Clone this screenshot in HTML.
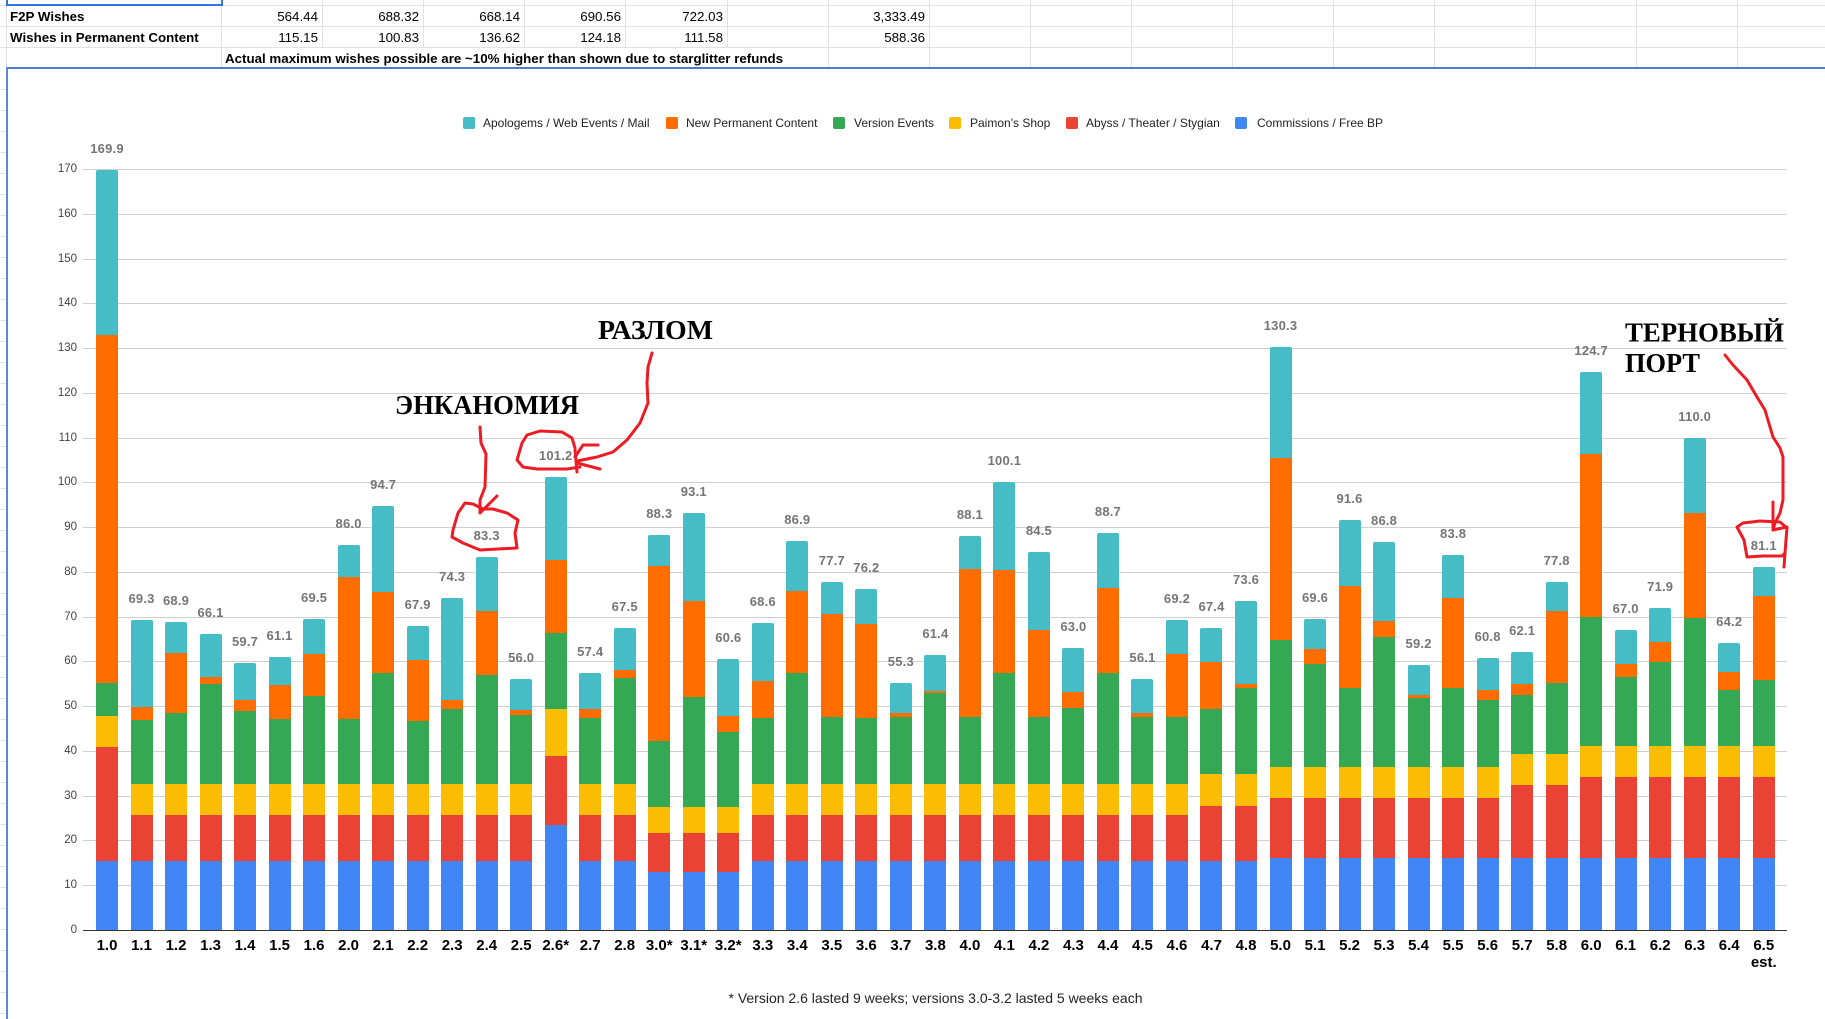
<!DOCTYPE html>
<html><head><meta charset="utf-8">
<style>
*{box-sizing:border-box}
html,body{margin:0;padding:0}
body{width:1825px;height:1019px;overflow:hidden;background:#fff;position:relative;font-family:"Liberation Sans",Arial,sans-serif}
.a{position:absolute}
.hl{position:absolute;left:0;width:1825px;height:1px;background:#e2e2e2}
.vl{position:absolute;width:1px;background:#e2e2e2}
.c{position:absolute;height:21px;line-height:21px;font-size:13.33px;color:#000;white-space:nowrap}
.n{text-align:right;width:97px}
.bd{font-weight:bold}
.gl{position:absolute;left:83px;width:1704px;height:1px;background:#d0d0d0}
.yt{position:absolute;left:27px;width:50px;text-align:right;font-size:11.5px;line-height:12px;color:#444}
.lg{position:absolute;top:117px;width:12px;height:12px;border-radius:2px}
.lt{position:absolute;top:116px;font-size:12px;line-height:14px;color:#222;white-space:nowrap}
#plot{position:absolute;left:89.74px;top:0;height:930px;display:flex}
.s{position:relative;width:34.52px;height:930px;flex:none;--b:15.5;--r:25.8;--y:32.7}
.c3{--b:13.0;--r:21.6;--y:27.4}
.d4{--r:27.8;--y:34.8}
.f5{--b:16.1;--r:29.6;--y:36.5}
.e5{--b:16.1;--r:32.5;--y:39.4}
.h6{--b:16.1;--r:34.3;--y:41.2}
.s i{position:absolute;left:6.26px;width:22px;bottom:0;display:block}
.s .t{height:calc(var(--t) * 4.474px);background:#46bdc6;border-radius:2px 2px 0 0}
.s .o{height:calc(var(--o) * 4.474px);background:#ff6d01}
.s .g{height:calc(var(--g) * 4.474px);background:#34a853}
.s .yl{height:calc(var(--y) * 4.474px);background:#fbbc04}
.s .r{height:calc(var(--r) * 4.474px);background:#ea4335}
.s .b{height:calc(var(--b) * 4.474px);background:#4285f4}
.s b{position:absolute;left:-15px;right:-15px;text-align:center;bottom:calc(var(--t) * 4.474px + 14px);font-size:13px;line-height:15px;font-weight:bold;color:#757575;letter-spacing:0.2px}
.s u{position:absolute;top:938px;left:-15px;right:-15px;text-align:center;text-decoration:none;font-size:15px;line-height:16.5px;font-weight:bold;color:#000}
</style></head><body>

<!-- spreadsheet rows -->
<div class="hl" style="top:5px"></div>
<div class="hl" style="top:26px"></div>
<div class="hl" style="top:47px"></div>
<div class="vl" style="left:6px;top:0;height:68px"></div>
<div class="vl" style="left:221px;top:0;height:68px"></div>
<div class="vl" style="left:322px;top:0;height:47px"></div>
<div class="vl" style="left:423px;top:0;height:47px"></div>
<div class="vl" style="left:524px;top:0;height:47px"></div>
<div class="vl" style="left:625px;top:0;height:47px"></div>
<div class="vl" style="left:727px;top:0;height:47px"></div>
<div class="vl" style="left:828px;top:0;height:68px"></div>
<div class="vl" style="left:929px;top:0;height:68px"></div>
<div class="vl" style="left:1030px;top:0;height:68px"></div>
<div class="vl" style="left:1131px;top:0;height:68px"></div>
<div class="vl" style="left:1232px;top:0;height:68px"></div>
<div class="vl" style="left:1333px;top:0;height:68px"></div>
<div class="vl" style="left:1434px;top:0;height:68px"></div>
<div class="vl" style="left:1535px;top:0;height:68px"></div>
<div class="vl" style="left:1636px;top:0;height:68px"></div>
<div class="vl" style="left:1737px;top:0;height:68px"></div>
<div class="a" style="left:6px;top:-4px;width:217px;height:10px;border:2px solid #2f74e0"></div>

<div class="c bd" style="left:10px;top:5.5px">F2P Wishes</div>
<div class="c n" style="left:221px;top:5.5px">564.44</div>
<div class="c n" style="left:322px;top:5.5px">688.32</div>
<div class="c n" style="left:423px;top:5.5px">668.14</div>
<div class="c n" style="left:524px;top:5.5px">690.56</div>
<div class="c n" style="left:626px;top:5.5px">722.03</div>
<div class="c n" style="left:828px;top:5.5px">3,333.49</div>

<div class="c bd" style="left:10px;top:26.5px">Wishes in Permanent Content</div>
<div class="c n" style="left:221px;top:26.5px">115.15</div>
<div class="c n" style="left:322px;top:26.5px">100.83</div>
<div class="c n" style="left:423px;top:26.5px">136.62</div>
<div class="c n" style="left:524px;top:26.5px">124.18</div>
<div class="c n" style="left:626px;top:26.5px">111.58</div>
<div class="c n" style="left:828px;top:26.5px">588.36</div>

<div class="c bd" style="left:225px;top:47.5px">Actual maximum wishes possible are ~10% higher than shown due to starglitter refunds</div>

<!-- left strip rows -->
<div class="a" style="left:0;top:69px;width:6px;height:950px;background:repeating-linear-gradient(to bottom,transparent 0,transparent 20px,#e2e2e2 20px,#e2e2e2 21px)"></div>
<!-- chart frame -->
<div class="a" style="left:6px;top:67px;width:1819px;height:2px;background:#4f7bc9"></div>
<div class="a" style="left:6px;top:67px;width:2px;height:952px;background:#5d88d4"></div>

<!-- legend -->
<div class="lg" style="left:463px;background:#46bdc6"></div><div class="lt" style="left:483px">Apologems / Web Events / Mail</div>
<div class="lg" style="left:666px;background:#ff6d01"></div><div class="lt" style="left:686px">New Permanent Content</div>
<div class="lg" style="left:833px;background:#34a853"></div><div class="lt" style="left:854px">Version Events</div>
<div class="lg" style="left:949px;background:#fbbc04"></div><div class="lt" style="left:970px">Paimon's Shop</div>
<div class="lg" style="left:1066px;background:#ea4335"></div><div class="lt" style="left:1086px">Abyss / Theater / Stygian</div>
<div class="lg" style="left:1235px;background:#4285f4"></div><div class="lt" style="left:1257px">Commissions / Free BP</div>

<!-- gridlines -->
<div class="gl" style="top:885px"></div>
<div class="gl" style="top:840px"></div>
<div class="gl" style="top:796px"></div>
<div class="gl" style="top:751px"></div>
<div class="gl" style="top:706px"></div>
<div class="gl" style="top:661px"></div>
<div class="gl" style="top:617px"></div>
<div class="gl" style="top:572px"></div>
<div class="gl" style="top:527px"></div>
<div class="gl" style="top:482px"></div>
<div class="gl" style="top:438px"></div>
<div class="gl" style="top:393px"></div>
<div class="gl" style="top:348px"></div>
<div class="gl" style="top:303px"></div>
<div class="gl" style="top:259px"></div>
<div class="gl" style="top:214px"></div>
<div class="gl" style="top:169px"></div>

<div class="yt" style="top:924px">0</div>
<div class="yt" style="top:879px">10</div>
<div class="yt" style="top:834px">20</div>
<div class="yt" style="top:790px">30</div>
<div class="yt" style="top:745px">40</div>
<div class="yt" style="top:700px">50</div>
<div class="yt" style="top:655px">60</div>
<div class="yt" style="top:611px">70</div>
<div class="yt" style="top:566px">80</div>
<div class="yt" style="top:521px">90</div>
<div class="yt" style="top:476px">100</div>
<div class="yt" style="top:432px">110</div>
<div class="yt" style="top:387px">120</div>
<div class="yt" style="top:342px">130</div>
<div class="yt" style="top:297px">140</div>
<div class="yt" style="top:253px">150</div>
<div class="yt" style="top:208px">160</div>
<div class="yt" style="top:163px">170</div>

<div id="plot">
<div class="s" style="--t:169.9;--o:133.1;--g:55.3;--y:47.9;--r:40.8"><i class="t"></i><i class="o"></i><i class="g"></i><i class="yl"></i><i class="r"></i><i class="b"></i><b>169.9</b><u>1.0</u></div>
<div class="s" style="--t:69.3;--o:49.8;--g:46.9"><i class="t"></i><i class="o"></i><i class="g"></i><i class="yl"></i><i class="r"></i><i class="b"></i><b>69.3</b><u>1.1</u></div>
<div class="s" style="--t:68.9;--o:62.0;--g:48.6"><i class="t"></i><i class="o"></i><i class="g"></i><i class="yl"></i><i class="r"></i><i class="b"></i><b>68.9</b><u>1.2</u></div>
<div class="s" style="--t:66.1;--o:56.6;--g:54.9"><i class="t"></i><i class="o"></i><i class="g"></i><i class="yl"></i><i class="r"></i><i class="b"></i><b>66.1</b><u>1.3</u></div>
<div class="s" style="--t:59.7;--o:51.5;--g:48.9"><i class="t"></i><i class="o"></i><i class="g"></i><i class="yl"></i><i class="r"></i><i class="b"></i><b>59.7</b><u>1.4</u></div>
<div class="s" style="--t:61.1;--o:54.7;--g:47.2"><i class="t"></i><i class="o"></i><i class="g"></i><i class="yl"></i><i class="r"></i><i class="b"></i><b>61.1</b><u>1.5</u></div>
<div class="s" style="--t:69.5;--o:61.7;--g:52.4"><i class="t"></i><i class="o"></i><i class="g"></i><i class="yl"></i><i class="r"></i><i class="b"></i><b>69.5</b><u>1.6</u></div>
<div class="s" style="--t:86.0;--o:78.9;--g:47.2"><i class="t"></i><i class="o"></i><i class="g"></i><i class="yl"></i><i class="r"></i><i class="b"></i><b>86.0</b><u>2.0</u></div>
<div class="s" style="--t:94.7;--o:75.5;--g:57.4"><i class="t"></i><i class="o"></i><i class="g"></i><i class="yl"></i><i class="r"></i><i class="b"></i><b>94.7</b><u>2.1</u></div>
<div class="s" style="--t:67.9;--o:60.3;--g:46.7"><i class="t"></i><i class="o"></i><i class="g"></i><i class="yl"></i><i class="r"></i><i class="b"></i><b>67.9</b><u>2.2</u></div>
<div class="s" style="--t:74.3;--o:51.5;--g:49.4"><i class="t"></i><i class="o"></i><i class="g"></i><i class="yl"></i><i class="r"></i><i class="b"></i><b>74.3</b><u>2.3</u></div>
<div class="s" style="--t:83.3;--o:71.2;--g:57.1"><i class="t"></i><i class="o"></i><i class="g"></i><i class="yl"></i><i class="r"></i><i class="b"></i><b>83.3</b><u>2.4</u></div>
<div class="s" style="--t:56.0;--o:49.1;--g:48.1"><i class="t"></i><i class="o"></i><i class="g"></i><i class="yl"></i><i class="r"></i><i class="b"></i><b>56.0</b><u>2.5</u></div>
<div class="s" style="--t:101.2;--o:82.6;--g:66.3;--y:49.4;--r:39.0;--b:23.4"><i class="t"></i><i class="o"></i><i class="g"></i><i class="yl"></i><i class="r"></i><i class="b"></i><b>101.2</b><u>2.6*</u></div>
<div class="s" style="--t:57.4;--o:49.4;--g:47.4"><i class="t"></i><i class="o"></i><i class="g"></i><i class="yl"></i><i class="r"></i><i class="b"></i><b>57.4</b><u>2.7</u></div>
<div class="s" style="--t:67.5;--o:58.1;--g:56.4"><i class="t"></i><i class="o"></i><i class="g"></i><i class="yl"></i><i class="r"></i><i class="b"></i><b>67.5</b><u>2.8</u></div>
<div class="s c3" style="--t:88.3;--o:81.4;--g:42.3"><i class="t"></i><i class="o"></i><i class="g"></i><i class="yl"></i><i class="r"></i><i class="b"></i><b>88.3</b><u>3.0*</u></div>
<div class="s c3" style="--t:93.1;--o:73.6;--g:52.0"><i class="t"></i><i class="o"></i><i class="g"></i><i class="yl"></i><i class="r"></i><i class="b"></i><b>93.1</b><u>3.1*</u></div>
<div class="s c3" style="--t:60.6;--o:47.9;--g:44.3"><i class="t"></i><i class="o"></i><i class="g"></i><i class="yl"></i><i class="r"></i><i class="b"></i><b>60.6</b><u>3.2*</u></div>
<div class="s" style="--t:68.6;--o:55.7;--g:47.4"><i class="t"></i><i class="o"></i><i class="g"></i><i class="yl"></i><i class="r"></i><i class="b"></i><b>68.6</b><u>3.3</u></div>
<div class="s" style="--t:86.9;--o:75.8;--g:57.4"><i class="t"></i><i class="o"></i><i class="g"></i><i class="yl"></i><i class="r"></i><i class="b"></i><b>86.9</b><u>3.4</u></div>
<div class="s" style="--t:77.7;--o:70.7;--g:47.7"><i class="t"></i><i class="o"></i><i class="g"></i><i class="yl"></i><i class="r"></i><i class="b"></i><b>77.7</b><u>3.5</u></div>
<div class="s" style="--t:76.2;--o:68.5;--g:47.4"><i class="t"></i><i class="o"></i><i class="g"></i><i class="yl"></i><i class="r"></i><i class="b"></i><b>76.2</b><u>3.6</u></div>
<div class="s" style="--t:55.3;--o:48.6;--g:47.7"><i class="t"></i><i class="o"></i><i class="g"></i><i class="yl"></i><i class="r"></i><i class="b"></i><b>55.3</b><u>3.7</u></div>
<div class="s" style="--t:61.4;--o:53.5;--g:53.0"><i class="t"></i><i class="o"></i><i class="g"></i><i class="yl"></i><i class="r"></i><i class="b"></i><b>61.4</b><u>3.8</u></div>
<div class="s" style="--t:88.1;--o:80.6;--g:47.7"><i class="t"></i><i class="o"></i><i class="g"></i><i class="yl"></i><i class="r"></i><i class="b"></i><b>88.1</b><u>4.0</u></div>
<div class="s" style="--t:100.1;--o:80.4;--g:57.4"><i class="t"></i><i class="o"></i><i class="g"></i><i class="yl"></i><i class="r"></i><i class="b"></i><b>100.1</b><u>4.1</u></div>
<div class="s" style="--t:84.5;--o:67.1;--g:47.7"><i class="t"></i><i class="o"></i><i class="g"></i><i class="yl"></i><i class="r"></i><i class="b"></i><b>84.5</b><u>4.2</u></div>
<div class="s" style="--t:63.0;--o:53.2;--g:49.6"><i class="t"></i><i class="o"></i><i class="g"></i><i class="yl"></i><i class="r"></i><i class="b"></i><b>63.0</b><u>4.3</u></div>
<div class="s" style="--t:88.7;--o:76.5;--g:57.4"><i class="t"></i><i class="o"></i><i class="g"></i><i class="yl"></i><i class="r"></i><i class="b"></i><b>88.7</b><u>4.4</u></div>
<div class="s" style="--t:56.1;--o:48.6;--g:47.7"><i class="t"></i><i class="o"></i><i class="g"></i><i class="yl"></i><i class="r"></i><i class="b"></i><b>56.1</b><u>4.5</u></div>
<div class="s" style="--t:69.2;--o:61.7;--g:47.7"><i class="t"></i><i class="o"></i><i class="g"></i><i class="yl"></i><i class="r"></i><i class="b"></i><b>69.2</b><u>4.6</u></div>
<div class="s d4" style="--t:67.4;--o:59.8;--g:49.4"><i class="t"></i><i class="o"></i><i class="g"></i><i class="yl"></i><i class="r"></i><i class="b"></i><b>67.4</b><u>4.7</u></div>
<div class="s d4" style="--t:73.6;--o:54.9;--g:54.2"><i class="t"></i><i class="o"></i><i class="g"></i><i class="yl"></i><i class="r"></i><i class="b"></i><b>73.6</b><u>4.8</u></div>
<div class="s f5" style="--t:130.3;--o:105.4;--g:64.9"><i class="t"></i><i class="o"></i><i class="g"></i><i class="yl"></i><i class="r"></i><i class="b"></i><b>130.3</b><u>5.0</u></div>
<div class="s f5" style="--t:69.6;--o:62.7;--g:59.5"><i class="t"></i><i class="o"></i><i class="g"></i><i class="yl"></i><i class="r"></i><i class="b"></i><b>69.6</b><u>5.1</u></div>
<div class="s f5" style="--t:91.6;--o:77.0;--g:54.2"><i class="t"></i><i class="o"></i><i class="g"></i><i class="yl"></i><i class="r"></i><i class="b"></i><b>91.6</b><u>5.2</u></div>
<div class="s f5" style="--t:86.8;--o:69.0;--g:65.4"><i class="t"></i><i class="o"></i><i class="g"></i><i class="yl"></i><i class="r"></i><i class="b"></i><b>86.8</b><u>5.3</u></div>
<div class="s f5" style="--t:59.2;--o:52.5;--g:51.8"><i class="t"></i><i class="o"></i><i class="g"></i><i class="yl"></i><i class="r"></i><i class="b"></i><b>59.2</b><u>5.4</u></div>
<div class="s f5" style="--t:83.8;--o:74.1;--g:54.0"><i class="t"></i><i class="o"></i><i class="g"></i><i class="yl"></i><i class="r"></i><i class="b"></i><b>83.8</b><u>5.5</u></div>
<div class="s f5" style="--t:60.8;--o:53.7;--g:51.5"><i class="t"></i><i class="o"></i><i class="g"></i><i class="yl"></i><i class="r"></i><i class="b"></i><b>60.8</b><u>5.6</u></div>
<div class="s e5" style="--t:62.1;--o:54.9;--g:52.5"><i class="t"></i><i class="o"></i><i class="g"></i><i class="yl"></i><i class="r"></i><i class="b"></i><b>62.1</b><u>5.7</u></div>
<div class="s e5" style="--t:77.8;--o:71.2;--g:55.2"><i class="t"></i><i class="o"></i><i class="g"></i><i class="yl"></i><i class="r"></i><i class="b"></i><b>77.8</b><u>5.8</u></div>
<div class="s h6" style="--t:124.7;--o:106.3;--g:70.0"><i class="t"></i><i class="o"></i><i class="g"></i><i class="yl"></i><i class="r"></i><i class="b"></i><b>124.7</b><u>6.0</u></div>
<div class="s h6" style="--t:67.0;--o:59.5;--g:56.6"><i class="t"></i><i class="o"></i><i class="g"></i><i class="yl"></i><i class="r"></i><i class="b"></i><b>67.0</b><u>6.1</u></div>
<div class="s h6" style="--t:71.9;--o:64.4;--g:59.8"><i class="t"></i><i class="o"></i><i class="g"></i><i class="yl"></i><i class="r"></i><i class="b"></i><b>71.9</b><u>6.2</u></div>
<div class="s h6" style="--t:110.0;--o:93.2;--g:69.7"><i class="t"></i><i class="o"></i><i class="g"></i><i class="yl"></i><i class="r"></i><i class="b"></i><b>110.0</b><u>6.3</u></div>
<div class="s h6" style="--t:64.2;--o:57.6;--g:53.7"><i class="t"></i><i class="o"></i><i class="g"></i><i class="yl"></i><i class="r"></i><i class="b"></i><b>64.2</b><u>6.4</u></div>
<div class="s h6" style="--t:81.1;--o:74.6;--g:55.9"><i class="t"></i><i class="o"></i><i class="g"></i><i class="yl"></i><i class="r"></i><i class="b"></i><b>81.1</b><u>6.5<br>est.</u></div>
</div>

<!-- axis -->
<div class="a" style="left:83px;top:930px;width:1704px;height:1px;background:#333"></div>

<div class="a" style="left:435px;top:990px;width:1001px;text-align:center;font-size:14px;line-height:16px;color:#222;white-space:nowrap">* Version 2.6 lasted 9 weeks; versions 3.0-3.2 lasted 5 weeks each</div>

<!-- annotations -->
<svg class="a" style="left:0;top:0" width="1825" height="1019" viewBox="0 0 1825 1019">
<g font-family="'Liberation Serif','Times New Roman',serif" font-weight="bold" font-size="27" fill="#000">
<text x="395" y="414" textLength="184" lengthAdjust="spacingAndGlyphs">ЭНКАНОМИЯ</text>
<text x="598" y="339" textLength="115" lengthAdjust="spacingAndGlyphs">РАЗЛОМ</text>
<text x="1625" y="341.5" textLength="159" lengthAdjust="spacingAndGlyphs">ТЕРНОВЫЙ</text>
<text x="1625" y="372" textLength="75" lengthAdjust="spacingAndGlyphs">ПОРТ</text>
</g>
<g fill="none" stroke="#ed1c24" stroke-width="3" stroke-linecap="round" stroke-linejoin="round">
<path d="M480,427 L481,443 L486,454 L485,487 L480,500 L480,513 L497,496"/>
<path d="M465,503 L458,513 L453,530 L452,537 L463,543 L480,550 L517,548 L515,533 L518,520 L507,513 L493,509 L483,509 L473,504 Z"/>
<path d="M652,353 L648,367 L647,383 L648,403 L640,423 L627,440 L613,452 L597,457 L577,461"/>
<path d="M598,445 L583,445 L575,457 M577,463 L600,469 M575,450 L577,472"/>
<path d="M575,448 L572,438 L562,432 L540,431 L527,435 L522,443 L517,460 L523,467 L537,469 L567,469 L580,467"/>
<path d="M1725,355 L1733,365 L1747,380 L1757,397 L1765,410 L1770,427 L1773,437 L1780,448 L1783,457 L1783,473 L1783,500 L1780,513 L1775,523 L1773,530"/>
<path d="M1773,502 L1773,530 L1787,527"/>
<path d="M1737,527 L1743,523 L1760,521 L1780,522 L1787,528 L1786,540 L1785,553 L1782,556 L1763,556 L1747,557 L1744,540 Z M1785,553 L1784,567"/>
</g>
</svg>
</body></html>
